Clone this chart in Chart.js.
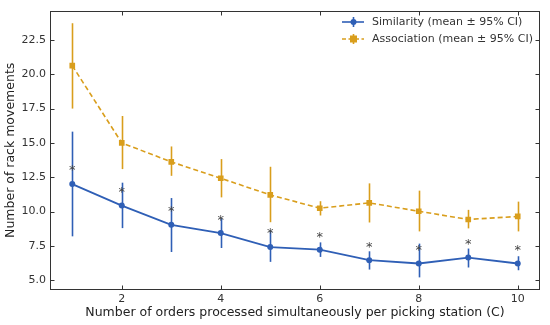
<!DOCTYPE html>
<html>
<head>
<meta charset="utf-8">
<script src="https://cdn.jsdelivr.net/npm/chart.js@4.4.1/dist/chart.umd.min.js"></script>
<style>
  html, body { margin: 0; padding: 0; background: #fff; }
  #wrap { width: 550px; height: 325px; position: relative; }
</style>
</head>
<body>
<div id="wrap"><canvas id="c" width="550" height="325"></canvas></div>
<script>
// ---- Data ----
const categories = [1, 2, 3, 4, 5, 6, 7, 8, 9, 10];

const similarityMean  = [12.0, 10.43, 9.03, 8.43, 7.41, 7.22, 6.45, 6.21, 6.64, 6.21];
const similarityLow   = [8.19, 8.79, 7.05, 7.34, 6.33, 6.69, 5.77, 5.20, 5.92, 5.72];
const similarityHigh  = [15.82, 12.10, 10.98, 9.51, 8.62, 7.75, 7.10, 7.66, 7.30, 6.74];

const associationMean = [20.63, 15.0, 13.62, 12.42, 11.21, 10.24, 10.63, 10.02, 9.42, 9.64];
const associationLow  = [17.5, 13.09, 12.6, 11.03, 9.22, 9.71, 9.2, 8.55, 8.77, 8.55];
const associationHigh = [23.72, 16.96, 14.74, 13.82, 13.26, 10.75, 12.05, 11.52, 10.12, 10.72];

const significanceY   = [13.26, 11.7, 10.27, 9.66, 8.67, 8.43, 7.66, 7.46, 7.9, 7.46];

const xTicks = [2, 4, 6, 8, 10];
const yTicks = [5.0, 7.5, 10.0, 12.5, 15.0, 17.5, 20.0, 22.5];

const seriesLabels = ['Similarity (mean ± 95% CI)', 'Association (mean ± 95% CI)'];

// ---- Styles ----
const BLUE = '#2f5fb6';
const ORANGE = '#d99e1c';
const AXIS = '#333333';
const FONT = "'DejaVu Sans', sans-serif";

const toPts = (ys) => categories.map((x, i) => ({ x: x, y: ys[i] }));

const errorBars = [
  { low: similarityLow, high: similarityHigh, color: BLUE },
  { low: associationLow, high: associationHigh, color: ORANGE }
];

const errorBarPlugin = {
  id: 'errorBars',
  beforeDatasetsDraw(chart) {
    const { ctx, scales: { x, y } } = chart;
    ctx.save();
    errorBars.forEach(eb => {
      ctx.strokeStyle = eb.color;
      ctx.lineWidth = 1.6;
      categories.forEach((c, i) => {
        const px = Math.round(x.getPixelForValue(c)) + 0.5;
        ctx.beginPath();
        ctx.moveTo(px, y.getPixelForValue(eb.low[i]));
        ctx.lineTo(px, y.getPixelForValue(eb.high[i]));
        ctx.stroke();
      });
    });
    ctx.restore();
  },
  afterDatasetsDraw(chart) {
    const { ctx, scales: { x, y } } = chart;
    ctx.save();
    ctx.fillStyle = '#444444';
    ctx.font = '13px ' + FONT;
    ctx.textAlign = 'center';
    ctx.textBaseline = 'alphabetic';
    categories.forEach((c, i) => {
      ctx.fillText('*', x.getPixelForValue(c), y.getPixelForValue(significanceY[i]) + 7.5);
    });
    ctx.restore();
  }
};

const framePlugin = {
  id: 'frame',
  afterDraw(chart) {
    const { ctx, chartArea: a, scales: { x, y } } = chart;
    ctx.save();
    ctx.strokeStyle = AXIS;
    ctx.lineWidth = 1;
    const L = Math.round(a.left) + 0.5, R = Math.round(a.right) - 0.5;
    const T = Math.round(a.top) + 0.5, B = Math.round(a.bottom) - 0.5;
    ctx.strokeRect(L, T, R - L, B - T);
    ctx.beginPath();
    const tl = 4;
    xTicks.forEach(v => {
      const px = Math.round(x.getPixelForValue(v)) + 0.5;
      ctx.moveTo(px, B); ctx.lineTo(px, B - tl);
      ctx.moveTo(px, T); ctx.lineTo(px, T + tl);
    });
    yTicks.forEach(v => {
      const py = Math.round(y.getPixelForValue(v)) + 0.5;
      ctx.moveTo(L, py); ctx.lineTo(L + tl, py);
      ctx.moveTo(R, py); ctx.lineTo(R - tl, py);
    });
    ctx.stroke();

    // legend
    const items = [
      { text: seriesLabels[0], color: BLUE, dash: [], marker: 'circle' },
      { text: seriesLabels[1], color: ORANGE, dash: [4, 2.5], marker: 'square' }
    ];
    ctx.font = '11px ' + FONT;
    ctx.textBaseline = 'middle';
    ctx.textAlign = 'left';
    items.forEach((it, k) => {
      const cy = 22 + k * 17;
      const x0 = 342, x1 = 364, xm = 353;
      ctx.strokeStyle = it.color;
      ctx.lineWidth = 1.6;
      ctx.setLineDash(it.dash);
      ctx.beginPath(); ctx.moveTo(x0, cy); ctx.lineTo(x1, cy); ctx.stroke();
      ctx.setLineDash([]);
      ctx.beginPath(); ctx.moveTo(xm + 0.5, cy - 5); ctx.lineTo(xm + 0.5, cy + 5); ctx.stroke();
      ctx.fillStyle = it.color;
      if (it.marker === 'circle') {
        ctx.beginPath(); ctx.arc(xm + 0.5, cy, 3, 0, Math.PI * 2); ctx.fill();
      } else {
        ctx.fillRect(xm + 0.5 - 3.5, cy - 3.5, 7, 7);
      }
      ctx.fillStyle = '#333333';
      ctx.fillText(it.text, 372, cy + 0.5);
    });
    ctx.restore();
  }
};

new Chart(document.getElementById('c'), {
  type: 'line',
  data: {
    datasets: [
      {
        label: seriesLabels[0],
        data: toPts(similarityMean),
        borderColor: BLUE,
        backgroundColor: BLUE,
        borderWidth: 1.8,
        pointStyle: 'circle',
        pointRadius: 3,
        pointBorderWidth: 0,
        tension: 0,
        fill: false
      },
      {
        label: seriesLabels[1],
        data: toPts(associationMean),
        borderColor: ORANGE,
        backgroundColor: ORANGE,
        borderWidth: 1.6,
        borderDash: [5, 3],
        pointStyle: 'rect',
        pointRadius: 4,
        pointBorderWidth: 0,
        tension: 0,
        fill: false
      }
    ]
  },
  options: {
    responsive: false,
    animation: false,
    devicePixelRatio: 1,
    layout: { padding: { left: 0, top: 9, right: 10, bottom: 0 } },
    plugins: { legend: { display: false }, tooltip: { enabled: false } },
    scales: {
      x: {
        type: 'linear',
        min: 0.55, max: 10.45,
        afterBuildTicks: (s) => { s.ticks = xTicks.map(v => ({ value: v })); },
        afterFit: (s) => { s.height = 35; },
        grid: { display: false, drawTicks: false },
        border: { display: false },
        ticks: { color: '#333333', font: { family: FONT, size: 11 }, padding: 3, maxRotation: 0,
                 callback: (v) => String(v) },
        title: { display: true, text: 'Number of orders processed simultaneously per picking station (C)',
                 color: '#222222', font: { family: FONT, size: 12.5 }, padding: { top: 0, bottom: 5 } }
      },
      y: {
        type: 'linear',
        min: 4.28, max: 24.64,
        afterBuildTicks: (s) => { s.ticks = yTicks.map(v => ({ value: v })); },
        afterFit: (s) => { s.width = 50; },
        grid: { display: false, drawTicks: false },
        border: { display: false },
        ticks: { color: '#333333', font: { family: FONT, size: 11 }, padding: 4,
                 callback: (v) => Number(v).toFixed(1) },
        title: { display: true, text: 'Number of rack movements',
                 color: '#222222', font: { family: FONT, size: 12.5 }, padding: { top: 3, bottom: 0 } }
      }
    }
  },
  plugins: [errorBarPlugin, framePlugin]
});
</script>
</body>
</html>
